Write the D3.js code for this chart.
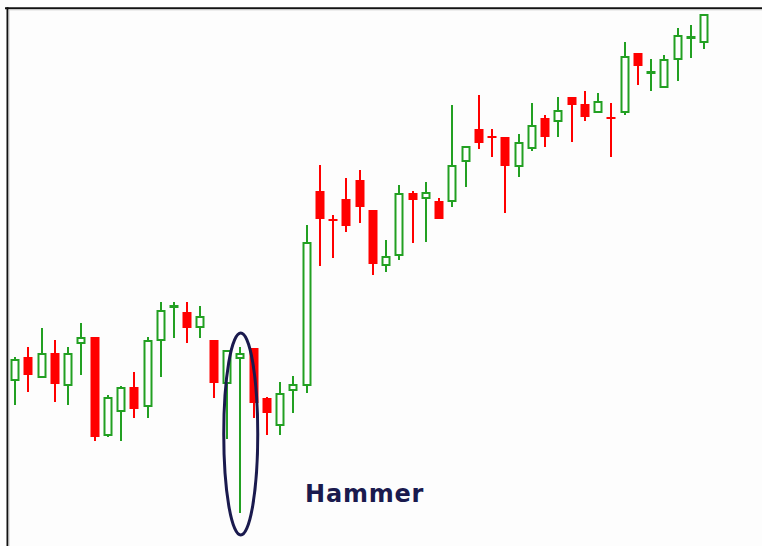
<!DOCTYPE html>
<html>
<head>
<meta charset="utf-8">
<script src="https://cdn.jsdelivr.net/npm/d3@7"></script>
<style>
  body { margin: 0; background: #fff; }
  svg { display: block; }
</style>
</head>
<body>
<div id="chart"></div>
<script>
// candle values (arbitrary price units)
var opens  = [14.9, 17.3, 15.2, 17.7, 14.4, 18.6, 19.3, 9.4, 11.8, 14.3, 12.3, 18.9, 22.2, 21.8, 20.2, 19.0, 14.6, 17.1, 18.2, 13.2, 10.4, 13.9, 14.4, 33.9, 31.1, 33.1, 35.0, 32.0, 26.4, 27.4, 33.7, 33.1, 32.9, 32.8, 36.8, 40.1, 39.4, 39.3, 36.3, 38.1, 41.2, 40.8, 43.3, 42.6, 41.7, 41.3, 41.7, 47.7, 45.6, 44.2, 47.0, 49.1, 48.7];
var highs  = [17.3, 18.3, 20.2, 19.0, 18.3, 20.7, 19.3, 13.5, 14.4, 15.8, 19.3, 22.8, 22.8, 22.8, 22.4, 19.0, 18.0, 18.3, 18.2, 13.3, 14.8, 15.4, 30.5, 36.5, 31.5, 35.2, 36.0, 32.0, 29.0, 34.5, 33.9, 34.8, 33.2, 42.5, 38.4, 43.5, 40.1, 39.3, 39.6, 42.7, 41.5, 43.3, 43.3, 43.9, 43.7, 42.7, 48.8, 47.7, 47.1, 47.5, 50.2, 50.5, 51.6];
var lows   = [12.5, 13.8, 15.2, 12.8, 12.5, 15.5, 8.9, 9.3, 8.9, 11.2, 11.2, 15.3, 19.2, 18.7, 19.2, 13.2, 9.1, 1.7, 11.2, 9.5, 9.5, 11.7, 13.7, 26.4, 27.2, 29.8, 30.7, 25.5, 25.8, 27.0, 28.7, 28.8, 31.1, 32.3, 34.3, 38.1, 37.3, 31.7, 35.3, 37.9, 38.3, 39.3, 38.8, 40.9, 41.7, 37.3, 41.5, 44.5, 43.9, 44.2, 44.9, 47.2, 48.1];
var closes = [17.1, 15.5, 17.7, 14.6, 17.7, 19.3, 9.3, 13.3, 14.3, 12.1, 19.0, 22.0, 22.4, 20.2, 21.4, 14.7, 18.0, 17.7, 12.7, 11.7, 13.7, 14.6, 28.8, 31.1, 30.9, 30.4, 32.3, 26.6, 27.4, 33.7, 33.0, 33.8, 31.1, 36.5, 38.4, 38.7, 39.2, 36.4, 38.8, 40.5, 39.3, 42.0, 42.5, 41.3, 42.9, 41.1, 47.4, 46.4, 45.8, 47.1, 49.5, 49.3, 51.6];

var hammerIndex = 17;
var hammerLabel = "Hammer";

var width = 762, height = 546;
var green = "#22a022", red = "#ff0000", navy = "#1a1a4e";

var candles = opens.map(function(o, i) {
    return { i: i, open: o, high: highs[i], low: lows[i], close: closes[i] };
});

var x = d3.scaleLinear().domain([0, candles.length - 1]).range([15, 704]);
var y = d3.scaleLinear().domain([0, 53]).range([530, 0]);

var svg = d3.select("#chart").append("svg")
    .attr("width", width)
    .attr("height", height);

svg.append("rect").attr("width", width).attr("height", height).attr("fill", "#fdfdfd");

// frame (top + left only, the rest is cut off)
svg.append("line").attr("x1", 5).attr("x2", width).attr("y1", 8.3).attr("y2", 8.3)
    .attr("stroke", "#111").attr("stroke-width", 2);
svg.append("line").attr("x1", 9).attr("x2", width).attr("y1", 9.8).attr("y2", 9.8)
    .attr("stroke", "#c8c8c8").attr("stroke-width", 1);
svg.append("line").attr("x1", 7.5).attr("x2", 7.5).attr("y1", 7.3).attr("y2", height)
    .attr("stroke", "#111").attr("stroke-width", 2);
svg.append("line").attr("x1", 9).attr("x2", 9).attr("y1", 9.3).attr("y2", height)
    .attr("stroke", "#c8c8c8").attr("stroke-width", 1);

var bodyW = 9;
function isUp(d) { return d.close >= d.open; }

var g = svg.selectAll(".candle")
    .data(candles)
    .enter()
    .append("g")
    .attr("class", "candle");

// wicks
g.append("line")
    .attr("x1", function(d) { return Math.round(x(d.i)); })
    .attr("x2", function(d) { return Math.round(x(d.i)); })
    .attr("y1", function(d) { return y(d.high); })
    .attr("y2", function(d) { return y(d.low); })
    .attr("stroke", function(d) { return isUp(d) ? green : red; })
    .attr("stroke-width", 2);

// bodies: green hollow, red filled
g.append("rect")
    .attr("x", function(d) {
        var cx = Math.round(x(d.i));
        return isUp(d) ? cx - bodyW / 2 + 1 : cx - bodyW / 2;
    })
    .attr("y", function(d) {
        var top = y(Math.max(d.open, d.close));
        var h = Math.abs(y(d.open) - y(d.close));
        if (isUp(d)) return h < 3 ? top : top + 1;
        return top;
    })
    .attr("width", function(d) { return isUp(d) ? bodyW - 2 : bodyW; })
    .attr("height", function(d) {
        var h = Math.abs(y(d.open) - y(d.close));
        return isUp(d) ? Math.max(h - 2, 1) : Math.max(h, 2);
    })
    .attr("fill", function(d) { return isUp(d) ? "#fff" : red; })
    .attr("stroke", function(d) { return isUp(d) ? green : "none"; })
    .attr("stroke-width", 2);

// hammer annotation
var hd = candles[hammerIndex];
var eTop = y(hd.high) - 14, eBot = y(hd.low) + 22;
svg.append("ellipse")
    .attr("cx", x(hd.i) + 0.5)
    .attr("cy", (eTop + eBot) / 2)
    .attr("rx", 17)
    .attr("ry", (eBot - eTop) / 2)
    .attr("fill", "none")
    .attr("stroke", navy)
    .attr("stroke-width", 3);

svg.append("text")
    .attr("x", 305)
    .attr("y", 502)
    .text(hammerLabel)
    .style("font-family", "'DejaVu Sans', Verdana, sans-serif")
    .style("font-weight", "bold")
    .style("font-size", "24px")
    .style("letter-spacing", "0.8px")
    .style("fill", navy);
</script>
</body>
</html>
